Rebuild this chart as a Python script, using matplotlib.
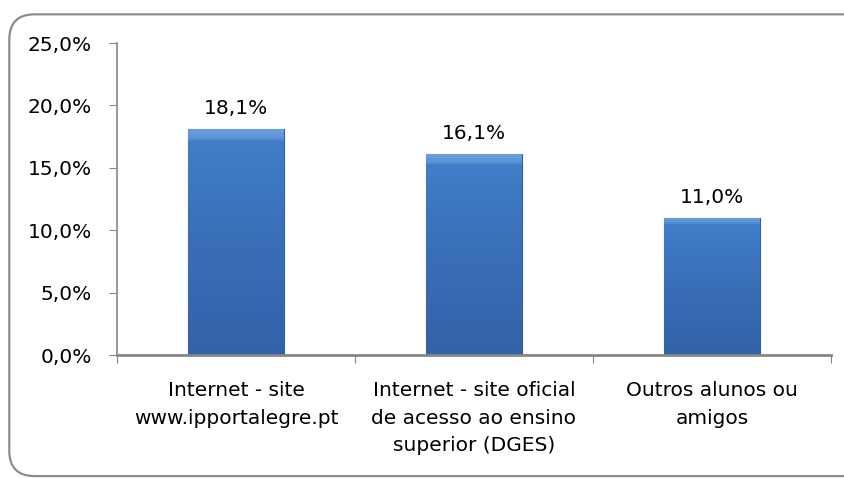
import numpy as np
import matplotlib.pyplot as plt
from matplotlib.patches import FancyBboxPatch
from matplotlib.colors import LinearSegmentedColormap

# Fontes de informação (percentagem de respostas)
categorias = ['Internet - site\nwww.ipportalegre.pt',
              'Internet - site oficial\nde acesso ao ensino\nsuperior (DGES)',
              'Outros alunos ou\namigos']
valores = [18.1, 16.1, 11.0]
ticks_y = [0, 5, 10, 15, 20, 25]

plt.rcParams['font.family'] = ['DejaVu Sans']

fig = plt.figure(figsize=(8.44, 4.78), dpi=100)
ax = fig.add_axes([0.1386, 0.2573, 0.846, 0.6527])

# moldura arredondada do gráfico
moldura = FancyBboxPatch((0.011, 0.004), 1.05, 0.966, boxstyle='round,pad=0,rounding_size=0.03',
                         transform=fig.transFigure, fill=False, edgecolor='#8c8c8c',
                         linewidth=1.6, mutation_aspect=844 / 478)
fig.patches.append(moldura)

x = range(len(categorias))
barras = ax.bar(x, valores, width=0.4, color='#3b6fb6', edgecolor='#2f5e9f', linewidth=0.8, zorder=2)

# degradê vertical nas barras (efeito do Excel)
cmap = LinearSegmentedColormap.from_list(
    'azul', [(0, '#3362a8'), (0.55, '#3a70b9'), (0.95, '#417dc9'), (0.96, '#5c93d6'), (1, '#6a9ede')])
grad = np.linspace(0, 1, 512).reshape(-1, 1)
for b in barras:
    x0, w, h = b.get_x(), b.get_width(), b.get_height()
    im = ax.imshow(grad, cmap=cmap, aspect='auto', origin='lower',
                   extent=[x0, x0 + w, 0, h], zorder=2.5)
    im.set_clip_path(b)

for xi, v in zip(x, valores):
    ax.text(xi, v + 0.9, f'{v:.1f}%'.replace('.', ','), ha='center', va='bottom', fontsize=14.5)

ax.set_xlim(-0.5, len(categorias) - 0.5)
ax.set_ylim(0, 25)
ax.set_yticks(ticks_y)
ax.set_yticklabels([f'{t:.1f}%'.replace('.', ',') for t in ticks_y], fontsize=14.5)
ax.set_xticks([i - 0.5 for i in range(len(categorias) + 1)])
ax.set_xticklabels([])
ax.set_xticks(list(x), minor=True)
ax.set_xticklabels(categorias, minor=True, fontsize=14.5, linespacing=1.55, va='top')
ax.tick_params(axis='x', which='minor', length=0, pad=19)
ax.tick_params(axis='x', which='major', length=6, color='#868686', direction='out')
ax.tick_params(axis='y', length=6, color='#868686', pad=12)

for s in ['top', 'right']:
    ax.spines[s].set_visible(False)
ax.spines['left'].set_color('#868686')
ax.spines['bottom'].set_color('#868686')
ax.spines['left'].set_linewidth(1.2)
ax.spines['bottom'].set_linewidth(2)
ax.spines['bottom'].set_zorder(4)

fig.savefig('out.png', dpi=100)
